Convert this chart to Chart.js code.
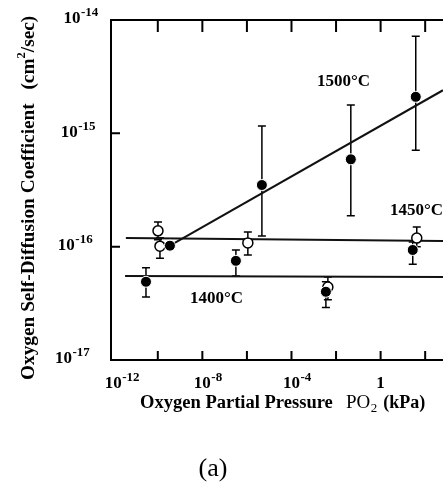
<!DOCTYPE html>
<html>
<head>
<meta charset="utf-8">
<script src="https://cdn.jsdelivr.net/npm/chart.js@4"></script>
<style>
  html, body { margin: 0; padding: 0; background: #fff; }
  canvas { display: block; }
</style>
</head>
<body>
<canvas id="chart" width="443" height="487"></canvas>
<script>
// oxygen partial pressure (kPa) vs oxygen self-diffusion coefficient (cm2/sec)
const p1500 = [3.5e-10, 4.7e-6, 0.046, 37.8];
const d1500 = [1.02e-16, 3.5e-16, 5.9e-16, 2.1e-15];
const d1500Hi = [null, 1.16e-15, 1.78e-15, 7.2e-15];
const d1500Lo = [null, 1.24e-16, 1.87e-16, 7.1e-16];

const p1450 = [1.02e-10, 1.25e-10, 1.1e-6, 4.3e-3, 41.9];
const d1450 = [1.38e-16, 1.01e-16, 1.08e-16, 4.4e-17, 1.19e-16];
const d1450Hi = [1.65e-16, 1.2e-16, 1.35e-16, 5.4e-17, 1.49e-16];
const d1450Lo = [1.15e-16, 7.9e-17, 8.45e-17, 3.4e-17, 1.0e-16];

const p1400 = [2.95e-11, 3.2e-7, 3.5e-3, 27.7];
const d1400 = [4.9e-17, 7.5e-17, 4.0e-17, 9.35e-17];
const d1400Hi = [6.5e-17, 9.35e-17, 4.9e-17, 1.1e-16];
const d1400Lo = [3.6e-17, 5.5e-17, 2.9e-17, 7.0e-17];

// fitted lines (start, end)
const fit1500P = [3.5e-10, 631];
const fit1500D = [1.02e-16, 2.4e-15];
const fit1450P = [3.7e-12, 631];
const fit1450D = [1.19e-16, 1.12e-16];
const fit1400P = [3.4e-12, 631];
const fit1400D = [5.5e-17, 5.4e-17];

// ticks and tick labels
const xTickValues = [1e-10, 1e-8, 1e-6, 1e-4, 1e-2, 1, 1e2];
const xLabelValues = [1e-12, 1e-8, 1e-4, 1];
const xLabelExps = ["-12", "-8", "-4", ""];
const yTickValues = [1e-16, 1e-15];
const yLabelValues = [1e-14, 1e-15, 1e-16, 1e-17];
const yLabelExps = ["-14", "-15", "-16", "-17"];

const SERIF = "'Liberation Serif', 'DejaVu Serif', serif";

function pts(xs, ys) {
    return xs.map((x, i) => ({ x: x, y: ys[i] }));
}

// "10" with a superscript exponent, centred on the "10"
function powerLabel(ctx, cx, cy, exp) {
    ctx.font = "bold 17px " + SERIF;
    const base = exp === "" ? "1" : "10";
    const w = ctx.measureText(base).width;
    ctx.textAlign = "left";
    ctx.textBaseline = "middle";
    ctx.fillText(base, cx - w / 2, cy);
    if (exp !== "") {
        ctx.font = "bold 13px " + SERIF;
        ctx.fillText(exp, cx + w / 2 + 0.5, cy - 6);
    }
}

function fitFont(ctx, text, weight, width) {
    ctx.font = weight + " 20px " + SERIF;
    const size = 20 * width / ctx.measureText(text).width;
    ctx.font = weight + " " + size.toFixed(2) + "px " + SERIF;
    return size;
}

const errorBars = {
    id: "errorBars",
    beforeDatasetsDraw(chart) {
        const ctx = chart.ctx;
        const yScale = chart.scales.y;
        ctx.save();
        ctx.strokeStyle = "#000";
        ctx.lineWidth = 1.5;
        chart.data.datasets.forEach((ds, di) => {
            if (!ds.errHi) return;
            const meta = chart.getDatasetMeta(di);
            meta.data.forEach((el, i) => {
                if (ds.errHi[i] == null) return;
                const top = yScale.getPixelForValue(ds.errHi[i]);
                const bot = yScale.getPixelForValue(ds.errLo[i]);
                ctx.beginPath();
                ctx.moveTo(el.x, top);
                ctx.lineTo(el.x, bot);
                ctx.moveTo(el.x - 4, top);
                ctx.lineTo(el.x + 4, top);
                ctx.moveTo(el.x - 4, bot);
                ctx.lineTo(el.x + 4, bot);
                ctx.stroke();
            });
        });
        ctx.restore();
    }
};

const frame = {
    id: "frame",
    afterDraw(chart) {
        const ctx = chart.ctx;
        const x = chart.scales.x, y = chart.scales.y;
        const area = chart.chartArea;
        ctx.save();
        ctx.strokeStyle = "#000";
        ctx.lineWidth = 2;
        // inward tick marks
        ctx.beginPath();
        xTickValues.forEach(v => {
            const px = x.getPixelForValue(v);
            ctx.moveTo(px, area.bottom);
            ctx.lineTo(px, area.bottom - 9);
            ctx.moveTo(px, area.top);
            ctx.lineTo(px, area.top + 12);
        });
        yTickValues.forEach(v => {
            const py = y.getPixelForValue(v);
            ctx.moveTo(area.left, py);
            ctx.lineTo(area.left + 9, py);
        });
        ctx.stroke();

        ctx.fillStyle = "#000";
        xLabelValues.forEach((v, i) => {
            powerLabel(ctx, x.getPixelForValue(v), 384, xLabelExps[i]);
        });
        yLabelValues.forEach((v, i) => {
            const py = y.getPixelForValue(v);
            powerLabel(ctx, 72 - (py - 20) * 0.025, py - 1, yLabelExps[i]);
        });

        // temperature labels
        ctx.font = "bold 17px " + SERIF;
        ctx.textBaseline = "middle";
        ctx.textAlign = "left";
        ctx.fillText("1500°C", 317, 82);
        ctx.fillText("1450°C", 390, 211);
        ctx.fillText("1400°C", 190, 299);

        // x axis title
        fitFont(ctx, "Oxygen Partial Pressure", "bold", 193);
        ctx.fillText("Oxygen Partial Pressure", 140, 403);
        ctx.font = "19px " + SERIF;
        ctx.fillText("PO", 346, 403);
        let cx = 346 + ctx.measureText("PO").width + 0.5;
        ctx.font = "13px " + SERIF;
        ctx.fillText("2", cx, 409);
        cx += ctx.measureText("2").width + 6;
        ctx.font = "bold 18px " + SERIF;
        ctx.fillText("(kPa)", cx, 403);

        // panel letter
        ctx.font = "26px " + SERIF;
        ctx.textAlign = "center";
        ctx.fillText("(a)", 213, 469);

        // y axis title, rotated, fitted to its length in the figure
        const t1 = "Oxygen Self-Diffusion Coefficient";
        ctx.font = "bold 17px " + SERIF;
        const total17 = ctx.measureText(t1 + "(cm/sec)").width + 12 + 7;
        const s = 17 * 366 / total17;
        const big = "bold " + s.toFixed(2) + "px " + SERIF;
        const small = "bold " + (s * 0.65).toFixed(2) + "px " + SERIF;
        ctx.translate(29, 380);
        ctx.rotate(-Math.PI / 2);
        ctx.textAlign = "left";
        ctx.font = big;
        ctx.fillText(t1, 0, 0);
        let ty = ctx.measureText(t1).width + 12 * s / 17;
        ctx.fillText("(cm", ty, 0);
        ty += ctx.measureText("(cm").width;
        ctx.font = small;
        ctx.fillText("2", ty, -7);
        ty += ctx.measureText("2").width;
        ctx.font = big;
        ctx.fillText("/sec)", ty, 0);
        ctx.restore();
    }
};

const filled = { pointRadius: 5.5, backgroundColor: "#000", borderColor: "#fff", borderWidth: 1, showLine: false };
const open = { pointRadius: 5, backgroundColor: "#fff", borderColor: "#000", borderWidth: 1.5, showLine: false };
const fitLine = { showLine: true, pointRadius: 0, borderColor: "#111", borderWidth: 2, fill: false, order: 5 };

new Chart(document.getElementById("chart").getContext("2d"), {
    type: "scatter",
    data: {
        datasets: [
            Object.assign({ label: "1500 fit", data: pts(fit1500P, fit1500D) }, fitLine),
            Object.assign({ label: "1450 fit", data: pts(fit1450P, fit1450D) }, fitLine),
            Object.assign({ label: "1400 fit", data: pts(fit1400P, fit1400D) }, fitLine),
            Object.assign({ label: "1450°C", data: pts(p1450, d1450), errHi: d1450Hi, errLo: d1450Lo, order: 2 }, open),
            Object.assign({ label: "1400°C", data: pts(p1400, d1400), errHi: d1400Hi, errLo: d1400Lo, order: 1 }, filled),
            Object.assign({ label: "1500°C", data: pts(p1500, d1500), errHi: d1500Hi, errLo: d1500Lo, order: 1 }, filled)
        ]
    },
    options: {
        responsive: false,
        animation: false,
        layout: { autoPadding: false, padding: { left: 111, right: 0, top: 20, bottom: 127 } },
        plugins: { legend: { display: false }, tooltip: { enabled: false } },
        scales: {
            x: {
                type: "logarithmic",
                position: "bottom",
                min: 7.94e-13,
                max: 631,
                ticks: { display: false },
                grid: { display: false, drawTicks: false },
                border: { display: true, color: "#000", width: 2 }
            },
            xTop: {
                type: "logarithmic",
                position: "top",
                min: 7.94e-13,
                max: 631,
                ticks: { display: false },
                grid: { display: false, drawTicks: false },
                border: { display: true, color: "#000", width: 2 }
            },
            y: {
                type: "logarithmic",
                min: 1e-17,
                max: 1e-14,
                ticks: { display: false },
                grid: { display: false, drawTicks: false },
                border: { display: true, color: "#000", width: 2 }
            }
        }
    },
    plugins: [errorBars, frame]
});
</script>
</body>
</html>
